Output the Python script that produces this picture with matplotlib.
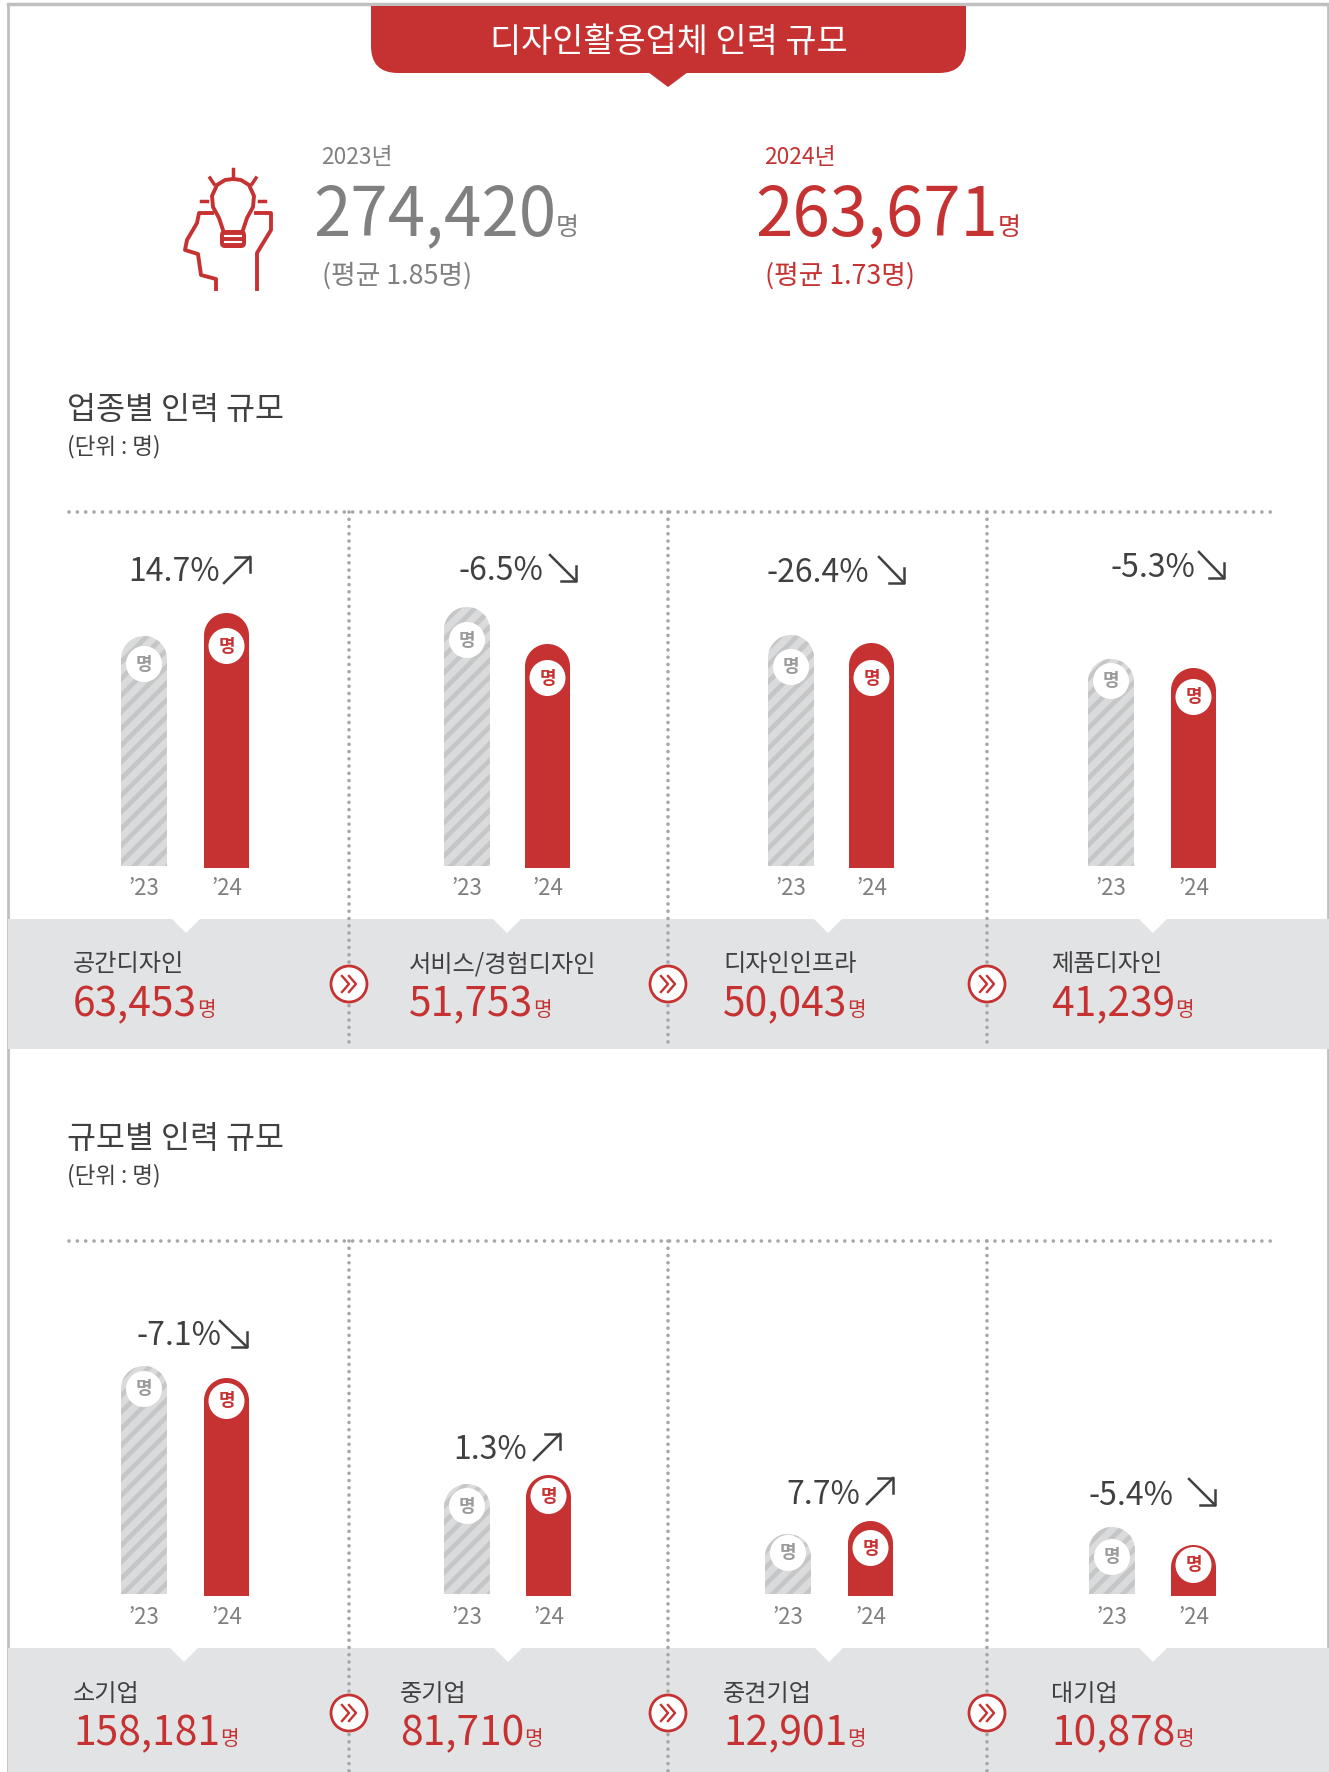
import numpy as np
import matplotlib
matplotlib.use("Agg")
import matplotlib.pyplot as plt
from matplotlib.path import Path
from matplotlib.patches import Circle, FancyBboxPatch, PathPatch, Polygon, Rectangle

plt.rcParams['font.family'] = ['Noto Sans CJK KR', 'DejaVu Sans']
plt.rcParams['hatch.linewidth'] = 3.4

RED = "#c63232"
GREY = "#808080"
DARK = "#404040"
BAND = "#e2e3e5"
DOT = "#a6a6a6"

# totals
years = ["2023년", "2024년"]
totals = ["274,420", "263,671"]
averages = ["(평균 1.85명)", "(평균 1.73명)"]

# first block
names_1 = ["공간디자인", "서비스/경험디자인", "디자인인프라", "제품디자인"]
values_1 = ["63,453", "51,753", "50,043", "41,239"]
pct_1 = ["14.7%", "-6.5%", "-26.4%", "-5.3%"]
# bar heights as drawn, the picture has no axis
h23_1 = [230, 259, 231, 207]
h24_1 = [255, 224, 225, 200]

# second block
names_2 = ["소기업", "중기업", "중견기업", "대기업"]
values_2 = ["158,181", "81,710", "12,901", "10,878"]
pct_2 = ["-7.1%", "1.3%", "7.7%", "-5.4%"]
h23_2 = [228, 110, 60, 67]
h24_2 = [218, 121, 75, 51]

fig = plt.figure(figsize=(13.29, 17.72), dpi=100)
ax = fig.add_axes([0, 0, 1, 1])
ax.set_xlim(0, 1329)
ax.set_ylim(1772, 0)
ax.axis("off")
rend = fig.canvas.get_renderer()


def with_unit(x, y, s, size, unit_size, color):
    t = ax.text(x, y, s, fontsize=size, color=color, va="baseline", ha="left", zorder=3)
    bb = t.get_window_extent(rend)
    ax.text(bb.x1, y, "명", fontsize=unit_size, color=color, va="baseline", ha="left", zorder=3)


def round_bar(x0, w, h, base, hatched):
    if hatched:
        b = ax.bar(x0, -h, w, bottom=base, align="edge", facecolor="#d9dbdd",
                   edgecolor="#c6c6c6", hatch="//", linewidth=0, zorder=3)
    else:
        b = ax.bar(x0, -h, w, bottom=base, align="edge", color=RED, linewidth=0, zorder=3)
    # semicircle top, open at the bottom
    ang = np.linspace(np.pi, 2 * np.pi, 40)
    r = w / 2
    pts = [(x0 + r + r * np.cos(a), base - h + r + r * np.sin(a)) for a in ang]
    pts = pts + [(x0 + w, base + 5), (x0, base + 5), pts[0]]
    clip = PathPatch(Path(pts), transform=ax.transData)
    b[0].set_clip_path(clip)


def arrow(x0, y0, x1, y1):
    ax.plot([x0, x1], [y0, y1], color=DARK, lw=1.8, zorder=4)
    if y1 < y0:
        hy = [y1, y1, y1 + 15]
    else:
        hy = [y1, y1, y1 - 15]
    ax.plot([x1 - 15, x1, x1], hy, color=DARK, lw=1.8, zorder=4)


def block(names, values, pct, h23, h24, base, x23, x24, widths, circ23, circ24, pct_pos, arrows,
          name_x, dot_top, band_top, band_bot, notch, year_y, name_y, value_y, icon_y):
    ax.add_patch(Rectangle((8, band_top), 1321, band_bot - band_top, color=BAND, lw=0, zorder=1))
    for n in notch:
        ax.add_patch(Polygon([(n - 15, band_top - 1), (n + 15, band_top - 1), (n, band_top + 14)],
                             color="white", lw=0, zorder=2))
    ax.plot([69, 1276], [dot_top, dot_top], color=DOT, lw=2.6, ls=(0, (0.01, 2.3)),
            dash_capstyle="round", zorder=2)
    for vx in [349, 668, 987]:
        ax.plot([vx, vx], [dot_top, band_bot], color=DOT, lw=2.6, ls=(0, (0.01, 2.0)),
                dash_capstyle="round", zorder=2)
        ax.add_patch(Circle((vx, icon_y), 18, facecolor="white", edgecolor=RED, lw=2, zorder=5))
        for dx in [-7, 0]:
            ax.plot([vx + dx, vx + dx + 7, vx + dx], [icon_y - 8, icon_y, icon_y + 8],
                    color=RED, lw=1.7, zorder=6)
    for i in range(4):
        round_bar(x23[i], widths[0], h23[i], base, True)
        round_bar(x24[i], widths[1], h24[i], base + 2, False)
        c23 = x23[i] + widths[0] / 2
        c24 = x24[i] + widths[1] / 2
        ax.add_patch(Circle((c23, circ23[i]), 18, color="white", lw=0, zorder=4))
        ax.add_patch(Circle((c24, circ24[i]), 18, color="white", lw=0, zorder=4))
        ax.text(c23, circ23[i], "명", fontsize=13, weight="bold", color="#9a9a9a",
                ha="center", va="center", zorder=5)
        ax.text(c24, circ24[i], "명", fontsize=13, weight="bold", color=RED,
                ha="center", va="center", zorder=5)
        ax.text(c23, year_y, "’23", fontsize=16, color=GREY, ha="center", va="center")
        ax.text(c24, year_y, "’24", fontsize=16, color=GREY, ha="center", va="center")
        ax.text(pct_pos[i][0], pct_pos[i][1], pct[i], fontsize=23, color=DARK, ha="left", va="baseline")
        arrow(*arrows[i])
        ax.text(name_x[i], name_y, names[i], fontsize=17.4, color=DARK, ha="left", va="center", zorder=3)
        with_unit(name_x[i], value_y, values[i], 29.3, 14.5, RED)


# frame
ax.plot([8, 8], [4, 1772], color="#c0c0c0", lw=2, zorder=0)
ax.plot([1328, 1328], [4, 1772], color="#c0c0c0", lw=2, zorder=0)
ax.plot([8, 1328], [4, 4], color="#c0c0c0", lw=2.5, zorder=0)

# header
head = FancyBboxPatch((371, -30), 595, 103, boxstyle="round,pad=0,rounding_size=27", color=RED, lw=0, zorder=2)
ax.add_patch(head)
head.set_clip_path(Rectangle((0, 6), 1329, 100, transform=ax.transData))
ax.add_patch(Polygon([(648, 72), (688, 72), (668, 87)], color=RED, lw=0, zorder=2))
ax.text(669, 42, "디자인활용업체 인력 규모", color="white", fontsize=24.4, ha="center", va="center", zorder=3)

# totals
ax.text(321, 157, years[0], fontsize=16.4, color=GREY, va="center")
ax.text(764, 157, years[1], fontsize=16.4, color=RED, va="center")
with_unit(313, 235, totals[0], 48.5, 18, GREY)
with_unit(755, 235, totals[1], 48.5, 18, RED)
ax.text(322, 276, averages[0], fontsize=19.3, color=GREY, va="center")
ax.text(765, 276, averages[1], fontsize=19.3, color=RED, va="center")

# icon
head_l = [(216, 289), (216, 279), (201, 275), (198, 254), (185, 250), (187, 240), (197, 223), (199, 213), (212, 213)]
head_r = [(257, 289), (257, 253), (271, 230), (271, 213), (256, 213)]
ax.plot(*zip(*head_l), color=RED, lw=2.8, solid_joinstyle="round")
ax.plot(*zip(*head_r), color=RED, lw=2.8, solid_joinstyle="round")
bulb_x = [223, 219, 213, 212, 217, 225, 233, 241, 249, 254, 253, 247, 243]
bulb_y = [230, 218, 207, 196, 185, 180, 179, 180, 185, 196, 207, 218, 230]
ax.plot(bulb_x, bulb_y, color=RED, lw=2.8)
ax.add_patch(FancyBboxPatch((220, 230), 26, 18, boxstyle="round,pad=0,rounding_size=5", color=RED, lw=0))
ax.plot([225, 241], [236, 236], color="white", lw=1.5)
ax.plot([225, 241], [242, 242], color="white", lw=1.5)
ax.plot([233, 233], [169, 176], color=RED, lw=2.5)
ax.plot([210, 214], [178, 184], color=RED, lw=2.5)
ax.plot([256, 252], [178, 184], color=RED, lw=2.5)
ax.plot([201, 207], [201, 201], color=RED, lw=2.5)
ax.plot([259, 265], [201, 201], color=RED, lw=2.5)

# section titles
ax.text(67, 410, "업종별 인력 규모", fontsize=22.7, color=DARK, va="center")
ax.text(67, 447, "(단위 : 명)", fontsize=16.2, color=DARK, va="center")
ax.text(67, 1139, "규모별 인력 규모", fontsize=22.7, color=DARK, va="center")
ax.text(67, 1176, "(단위 : 명)", fontsize=16.2, color=DARK, va="center")

block(names_1, values_1, pct_1, h23_1, h24_1, 866,
      [121, 444, 768, 1088], [204, 525, 849, 1171], (46, 45),
      [664, 640, 667, 681], [646, 678, 678, 697],
      [(128, 581), (459, 580), (766, 582), (1110, 577)],
      [(224, 583, 250, 557), (550, 555, 576, 581), (879, 557, 904, 583), (1199, 552, 1224, 578)],
      [73, 409, 723, 1051],
      512, 919, 1049, [186, 507, 828, 1153], 888, 964, 1016, 984)

block(names_2, values_2, pct_2, h23_2, h24_2, 1594,
      [121, 444, 765, 1089], [204, 526, 848, 1171], (46, 45),
      [1389, 1506, 1553, 1557], [1401, 1496, 1548, 1565],
      [(136, 1345), (453, 1459), (786, 1504), (1088, 1505)],
      [(220, 1321, 247, 1347), (534, 1460, 560, 1434), (867, 1504, 893, 1478), (1189, 1479, 1215, 1505)],
      [73, 400, 723, 1051],
      1241, 1648, 1772, [184, 508, 829, 1153], 1617, 1694, 1745, 1713)

fig.savefig("out.png", dpi=100)
